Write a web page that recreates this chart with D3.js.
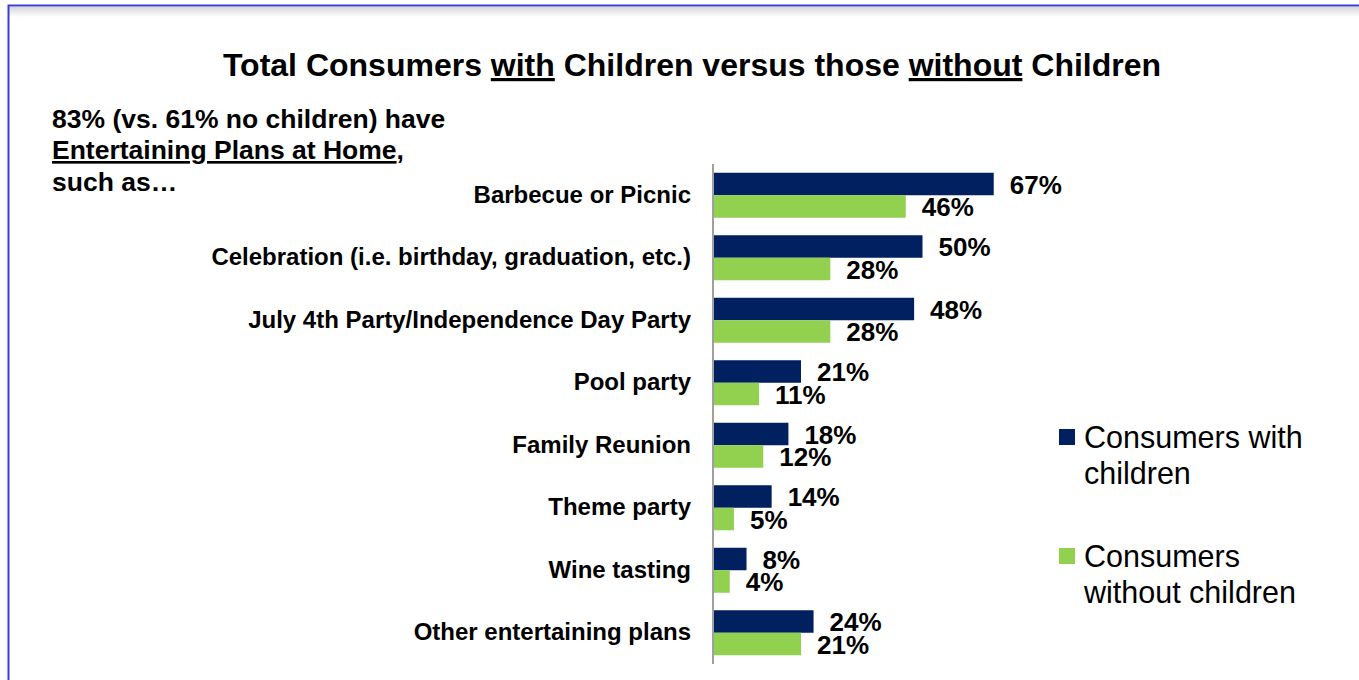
<!DOCTYPE html>
<html>
<head>
<meta charset="utf-8">
<script src="https://cdn.jsdelivr.net/npm/d3@7"></script>
<style>
  body { margin: 0; background: #fff; }
  svg { display: block; font-family: "Liberation Sans", Arial, sans-serif; }
</style>
</head>
<body>
<div id="chart"></div>
<script>
// data
const categories = [
    'Barbecue or Picnic',
    'Celebration (i.e. birthday, graduation, etc.)',
    'July 4th Party/Independence Day Party',
    'Pool party',
    'Family Reunion',
    'Theme party',
    'Wine tasting',
    'Other entertaining plans'
];
const withChildren = [67, 50, 48, 21, 18, 14, 8, 24];
const withoutChildren = [46, 28, 28, 11, 12, 5, 4, 21];
const seriesNames = ['Consumers with children', 'Consumers without children'];
const legendLines = [['Consumers with', 'children'], ['Consumers', 'without children']];

const width = 1359, height = 680;
const navy = '#002060', green = '#92d050';

const svg = d3.select('#chart')
    .append('svg')
    .attr('width', width)
    .attr('height', height);

// slide frame with shadow under top edge
const defs = svg.append('defs');
const grad = defs.append('linearGradient')
    .attr('id', 'shadow')
    .attr('x1', 0).attr('x2', 0).attr('y1', 0).attr('y2', 1);
grad.append('stop').attr('offset', '0%').attr('stop-color', '#d8d8d8');
grad.append('stop').attr('offset', '100%').attr('stop-color', '#ffffff');

svg.append('rect')
    .attr('x', 9).attr('y', 7)
    .attr('width', width).attr('height', 10)
    .attr('fill', 'url(#shadow)');

svg.append('rect')
    .attr('x', 8.5).attr('y', 5.5)
    .attr('width', width + 20).attr('height', height + 20)
    .attr('fill', 'none')
    .attr('stroke', '#3b3bd6')
    .attr('stroke-width', 2);

// title
const title = svg.append('text')
    .attr('x', 692)
    .attr('y', 76)
    .attr('text-anchor', 'middle')
    .attr('font-size', '32px')
    .attr('font-weight', 'bold');
title.append('tspan').text('Total Consumers ');
title.append('tspan').attr('text-decoration', 'underline').text('with');
title.append('tspan').text(' Children versus those ');
title.append('tspan').attr('text-decoration', 'underline').text('without');
title.append('tspan').text(' Children');

// side note
const note = svg.append('text')
    .attr('font-size', '26.5px')
    .attr('font-weight', 'bold');
note.append('tspan').attr('x', 52).attr('y', 128).text('83% (vs. 61% no children) have');
note.append('tspan').attr('x', 52).attr('y', 159)
    .attr('text-decoration', 'underline').text('Entertaining Plans at Home');
note.append('tspan').text(',');
note.append('tspan').attr('x', 52).attr('y', 191).text('such as\u2026');

// scales
const x = d3.scaleLinear()
    .domain([0, 100])
    .range([713, 713 + 419]);

const y = d3.scaleBand()
    .domain(categories)
    .range([164, 664])
    .paddingInner(0.28)
    .paddingOuter(0.14);

const sub = d3.scaleBand()
    .domain(seriesNames)
    .range([0, y.bandwidth()]);

const rows = categories.map((c, i) => ({
    cat: c,
    vals: [withChildren[i], withoutChildren[i]]
}));

const groups = svg.selectAll('.row')
    .data(rows)
    .enter()
    .append('g')
    .attr('class', 'row')
    .attr('transform', d => `translate(0, ${y(d.cat)})`);

groups.selectAll('rect')
    .data(d => d.vals.map((v, j) => ({ v: v, s: seriesNames[j] })))
    .enter()
    .append('rect')
    .attr('x', x(0))
    .attr('y', d => sub(d.s))
    .attr('width', d => x(d.v) - x(0))
    .attr('height', sub.bandwidth())
    .attr('fill', d => d.s === seriesNames[0] ? navy : green);

groups.selectAll('.val')
    .data(d => d.vals.map((v, j) => ({ v: v, s: seriesNames[j] })))
    .enter()
    .append('text')
    .attr('class', 'val')
    .attr('x', d => x(d.v) + 16)
    .attr('y', d => sub(d.s) + sub.bandwidth() / 2 + 0.5)
    .attr('dy', '0.35em')
    .attr('font-size', '26px')
    .attr('font-weight', 'bold')
    .text(d => d.v + '%');

// category axis
const yAxis = svg.append('g')
    .attr('transform', `translate(${x(0)}, 0)`)
    .call(d3.axisLeft(y).tickSize(0).tickPadding(22));
yAxis.select('.domain')
    .attr('stroke', '#a0a0a0')
    .attr('stroke-width', 2)
    .attr('d', 'M0,164V664');
yAxis.selectAll('.tick text')
    .attr('font-family', '"Liberation Sans", Arial, sans-serif')
    .attr('font-size', '24px')
    .attr('font-weight', 'bold')
    .attr('fill', '#000');

// legend
const legend = svg.selectAll('.legend')
    .data(seriesNames)
    .enter()
    .append('g')
    .attr('class', 'legend')
    .attr('transform', (d, i) => `translate(1059, ${429 + i * 119})`);

legend.append('rect')
    .attr('width', 16)
    .attr('height', 16)
    .attr('fill', (d, i) => i === 0 ? navy : green);

legend.append('text')
    .attr('font-size', '30.5px')
    .selectAll('tspan')
    .data((d, i) => legendLines[i])
    .enter()
    .append('tspan')
    .attr('x', 25)
    .attr('y', (d, k) => 19 + k * 36)
    .text(d => d);
</script>
</body>
</html>
